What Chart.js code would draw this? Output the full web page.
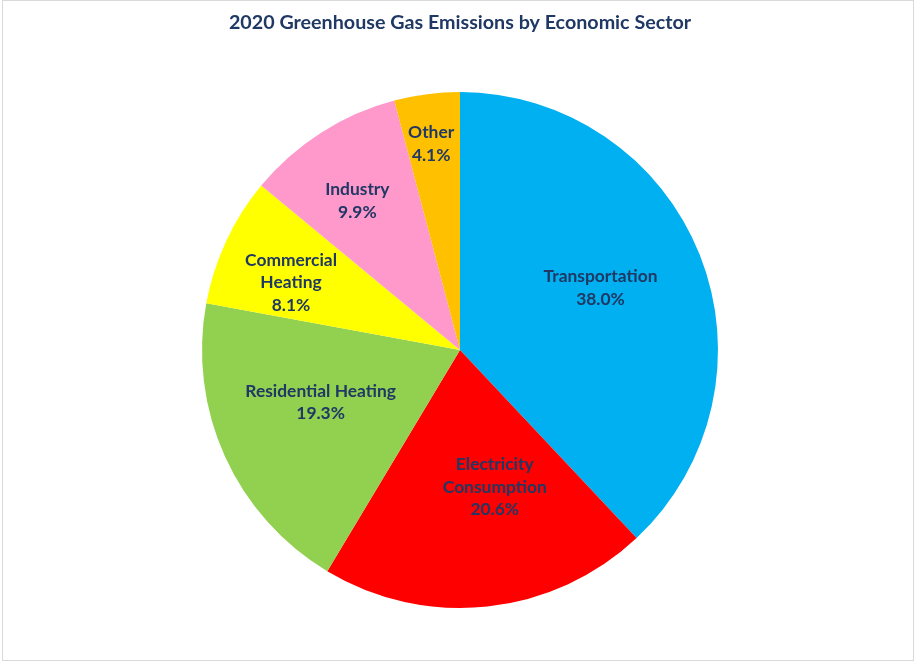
<!DOCTYPE html>
<html>
<head>
<meta charset="utf-8">
<script src="https://cdn.jsdelivr.net/npm/chart.js@4.4.1/dist/chart.umd.min.js"></script>
<style>
  html, body { margin: 0; padding: 0; background: #fff; }
  #wrap { width: 917px; height: 663px; position: relative; }
</style>
</head>
<body>
<div id="wrap"><canvas id="pie" width="917" height="663"></canvas></div>
<script>
// --- Data ---
const sectors = ['Transportation', 'Electricity Consumption', 'Residential Heating', 'Commercial Heating', 'Industry', 'Other'];
const labelLines = [['Transportation'], ['Electricity', 'Consumption'], ['Residential Heating'], ['Commercial', 'Heating'], ['Industry'], ['Other']];
const shares = [38.0, 20.6, 19.3, 8.1, 9.9, 4.1];
const sliceColors = ['#00B0F0', '#FF0000', '#92D050', '#FFFF00', '#FF99CC', '#FFC000'];

const TEXT_COLOR = '#1F3864';
const FONT = 'Lato, "Open Sans", "Liberation Sans", sans-serif';

// label placement (fraction of radius from center, plus small nudges)
const labelPlace = [
  { r: 0.59, dx: -1, dy: -6 },
  { r: 0.50, dx: 21, dy: 9 },
  { r: 0.58, dx: -3, dy: -9 },
  { r: 0.71, dx: -3, dy: 10 },
  { r: 0.71, dx: -4, dy: 5 },
  { r: 0.81, dx: -2, dy: 1 }
];

// --- Plugins ---
const frameBorder = {
  id: 'frameBorder',
  beforeDraw(chart) {
    const c = chart.ctx;
    c.save();
    c.fillStyle = '#fff';
    c.fillRect(0, 0, chart.width, chart.height);
    c.strokeStyle = '#D9D9D9';
    c.lineWidth = 1;
    c.strokeRect(2.5, 0.5, 911, 660);
    c.restore();
  }
};

const sliceLabels = {
  id: 'sliceLabels',
  afterDatasetsDraw(chart) {
    const c = chart.ctx;
    const meta = chart.getDatasetMeta(0);
    c.save();
    c.fillStyle = TEXT_COLOR;
    c.font = 'bold 17.4px ' + FONT;
    c.textAlign = 'center';
    c.textBaseline = 'middle';
    meta.data.forEach((arc, i) => {
      const p = arc.getProps(['x', 'y', 'startAngle', 'endAngle', 'outerRadius'], true);
      const mid = (p.startAngle + p.endAngle) / 2;
      const pl = labelPlace[i];
      const cx = p.x + Math.cos(mid) * p.outerRadius * pl.r + pl.dx;
      const cy = p.y + Math.sin(mid) * p.outerRadius * pl.r + pl.dy;
      const lines = labelLines[i].concat([shares[i].toFixed(1) + '%']);
      const lh = 22.5;
      const top = cy - (lines.length - 1) * lh / 2;
      lines.forEach((t, k) => c.fillText(t, cx, top + k * lh));
    });
    c.restore();
  }
};

// --- Chart ---
new Chart(document.getElementById('pie'), {
  type: 'pie',
  data: {
    labels: sectors,
    datasets: [{
      data: shares,
      backgroundColor: sliceColors,
      borderWidth: 0
    }]
  },
  options: {
    responsive: false,
    animation: false,
    layout: { padding: { left: 3, right: 0, top: 0, bottom: 55 } },
    plugins: {
      legend: { display: false },
      tooltip: { enabled: false },
      title: {
        display: true,
        text: '2020 Greenhouse Gas Emissions by Economic Sector',
        color: TEXT_COLOR,
        font: { family: FONT, size: 19.7, weight: 'bold', lineHeight: 1.2 },
        padding: { top: 11.2, bottom: 57.2 }
      }
    }
  },
  plugins: [frameBorder, sliceLabels]
});
</script>
</body>
</html>
